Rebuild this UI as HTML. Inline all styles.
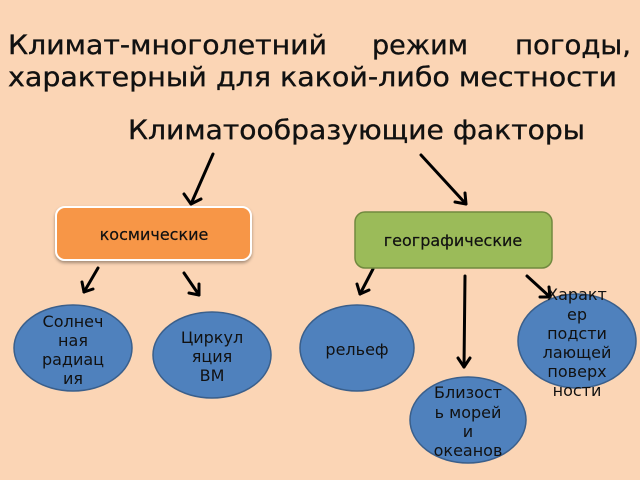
<!DOCTYPE html>
<html>
<head>
<meta charset="utf-8">
<style>
html,body{margin:0;padding:0;background:#FBD5B5;}
svg{display:block;}
text{font-family:"DejaVu Sans","Liberation Sans",sans-serif;fill:#111;}
.t{stroke:#111;stroke-width:0.35;}
</style>
</head>
<body>
<svg width="640" height="480" viewBox="0 0 640 480" xmlns="http://www.w3.org/2000/svg">
<defs>
<filter id="sh" x="-10%" y="-10%" width="120%" height="130%">
<feGaussianBlur in="SourceAlpha" stdDeviation="1.5"/>
<feOffset dx="0" dy="2" result="b"/>
<feComponentTransfer><feFuncA type="linear" slope="0.35"/></feComponentTransfer>
<feMerge><feMergeNode/><feMergeNode in="SourceGraphic"/></feMerge>
</filter>
</defs>
<rect width="640" height="480" fill="#FBD5B5"/>

<!-- Title lines -->
<text class="t" x="8" y="54" font-size="27" textLength="319" lengthAdjust="spacingAndGlyphs">Климат-многолетний</text>
<text class="t" x="372" y="54" font-size="27" textLength="96" lengthAdjust="spacingAndGlyphs">режим</text>
<text class="t" x="515" y="54" font-size="27" textLength="116" lengthAdjust="spacingAndGlyphs">погоды,</text>
<text class="t" x="8" y="86" font-size="27" textLength="609" lengthAdjust="spacingAndGlyphs">характерный для какой-либо местности</text>
<text class="t" x="128" y="139" font-size="27" textLength="457" lengthAdjust="spacingAndGlyphs">Климатообразующие факторы</text>

<!-- Arrows -->
<g stroke="#000" stroke-width="3" fill="none" stroke-linecap="round" stroke-linejoin="round">
<line x1="213" y1="154" x2="191" y2="204"/>
<polyline points="184,194 191,204 201,199"/>
<line x1="421" y1="155" x2="466" y2="204"/>
<polyline points="455,202 466,204 465,193"/>
<line x1="98" y1="268" x2="84" y2="292"/>
<polyline points="82,282 84,292 93,289"/>
<line x1="184" y1="273" x2="199" y2="295"/>
<polyline points="189,293 199,295 199,284"/>
<line x1="373" y1="269" x2="360" y2="294"/>
<polyline points="357,284 360,294 369,290"/>
<line x1="465" y1="276" x2="464" y2="367"/>
<polyline points="458,358 464,367 470,358"/>
<line x1="527" y1="276" x2="550" y2="297"/>
<polyline points="540,297 550,297 549,287"/>
</g>

<!-- Boxes -->
<rect x="56" y="207" width="195" height="53" rx="9" fill="#F79646" stroke="#fff" stroke-width="2" filter="url(#sh)"/>
<text x="154" y="240" font-size="16" text-anchor="middle" style="stroke:#111;stroke-width:0.2">космические</text>
<rect x="355" y="212" width="197" height="56" rx="10" fill="#9BBB59" stroke="#71893F" stroke-width="1.5"/>
<text x="453" y="246" font-size="16" text-anchor="middle" style="stroke:#111;stroke-width:0.2">географические</text>

<!-- Ellipses -->
<g fill="#4F81BD" stroke="#3A5F8B" stroke-width="1.5">
<ellipse cx="73" cy="348" rx="59" ry="43"/>
<ellipse cx="212" cy="355" rx="59" ry="43"/>
<ellipse cx="357" cy="348" rx="57" ry="43"/>
<ellipse cx="468" cy="420" rx="58" ry="43"/>
<ellipse cx="577" cy="341" rx="59" ry="47"/>
</g>

<g font-size="16" text-anchor="middle" style="fill:#000">
<text x="73" y="327">Солнеч</text>
<text x="73" y="346">ная</text>
<text x="73" y="365">радиац</text>
<text x="73" y="384">ия</text>

<text x="212" y="343">Циркул</text>
<text x="212" y="362">яция</text>
<text x="212" y="381">ВМ</text>

<text x="357" y="355">рельеф</text>

<text x="468" y="398">Близост</text>
<text x="468" y="418">ь морей</text>
<text x="468" y="437">и</text>
<text x="468" y="456">океанов</text>

<text x="577" y="300">Характ</text>
<text x="577" y="320">ер</text>
<text x="577" y="339">подсти</text>
<text x="577" y="358">лающей</text>
<text x="577" y="377">поверх</text>
<text x="577" y="396">ности</text>
</g>
</svg>
</body>
</html>
